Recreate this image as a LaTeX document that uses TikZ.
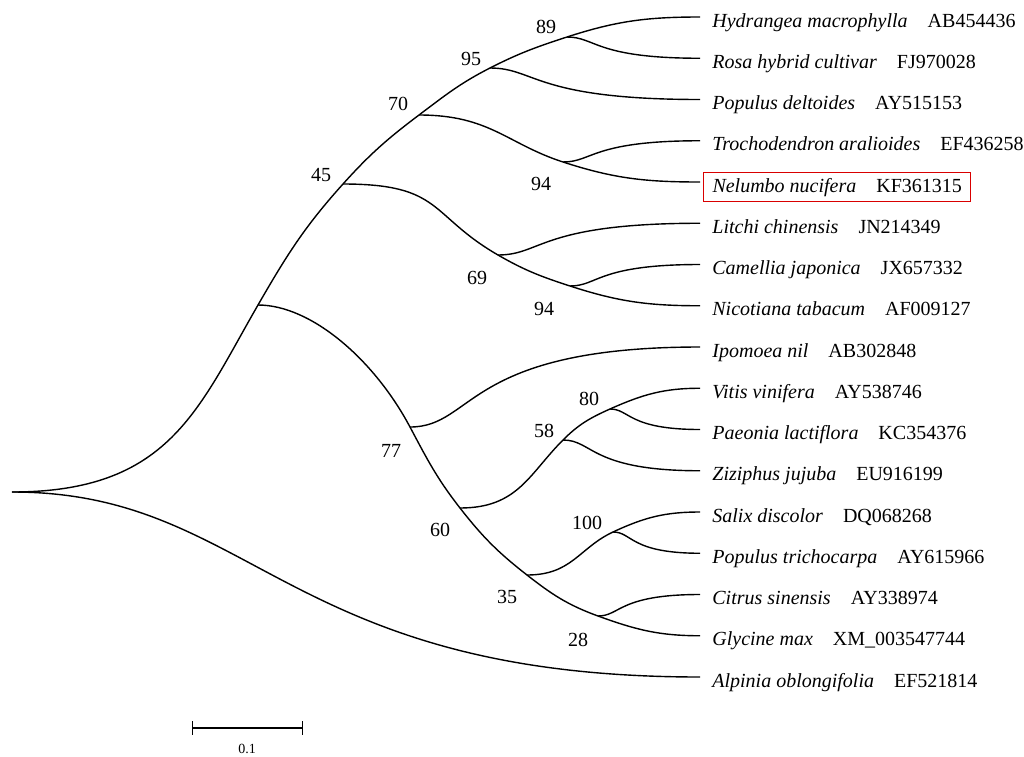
\documentclass[tikz,border=0pt]{standalone}
\usepackage{fontspec}
\setmainfont{Liberation Serif}
\tikzset{
  br/.style={line width=0.7pt},
  sig/.style={out=0,in=180,out looseness=0.55,in looseness=2},
  sp/.style={anchor=base west,inner xsep=4.5pt,inner ysep=2.5pt,text height=7.5pt,text depth=2pt,font=\fontsize{10}{12}\selectfont},
  bs/.style={inner sep=0pt,font=\fontsize{10}{12}\selectfont}
}

\begin{document}
\begin{tikzpicture}[x=0.5pt,y=-0.5pt]
        \useasboundingbox (0,0) rectangle (1024,756);
        % inner nodes
        \coordinate (root) at (12,492);
        \coordinate (n1) at (258,305);
        \coordinate (n45) at (343,184);
        \coordinate (n70) at (419,115);
        \coordinate (n95) at (490,68);
        \coordinate (n89) at (567,37);
        \coordinate (n94a) at (563,162);
        \coordinate (n69) at (498,255);
        \coordinate (n94b) at (570,286);
        \coordinate (n77) at (410,427);
        \coordinate (n60) at (460,508);
        \coordinate (n58) at (563,440);
        \coordinate (n80) at (610,409);
        \coordinate (n35) at (527,575);
        \coordinate (n100) at (613,532);
        \coordinate (n28) at (598,616);
        % leaves
        \coordinate (hyd) at (700,17);
        \coordinate (rosa) at (700,58.25);
        \coordinate (popd) at (700,99.5);
        \coordinate (tro) at (700,140.75);
        \coordinate (nel) at (700,182);
        \coordinate (lit) at (700,223.25);
        \coordinate (cam) at (700,264.5);
        \coordinate (nic) at (700,305.75);
        \coordinate (ipo) at (700,347);
        \coordinate (vit) at (700,388.25);
        \coordinate (pae) at (700,429.5);
        \coordinate (ziz) at (700,470.75);
        \coordinate (sal) at (700,512);
        \coordinate (popt) at (700,553.25);
        \coordinate (cit) at (700,594.5);
        \coordinate (gly) at (700,635.75);
        \coordinate (alp) at (700,677);
        % names
        \node (thyd) [sp] at (703,27) {\textit{Hydrangea macrophylla}\quad AB454436};
        \node (trosa) [sp] at (703,68.25) {\textit{Rosa hybrid cultivar}\quad FJ970028};
        \node (tpopd) [sp] at (703,109.5) {\textit{Populus deltoides}\quad AY515153};
        \node (ttro) [sp] at (703,150.75) {\textit{Trochodendron aralioides}\quad EF436258};
        \node (tnel) [sp,draw=red!85!black,line width=0.5pt] at (703,192) {\textit{Nelumbo nucifera}\quad KF361315};
        \node (tlit) [sp] at (703,233.25) {\textit{Litchi chinensis}\quad JN214349};
        \node (tcam) [sp] at (703,274.5) {\textit{Camellia japonica}\quad JX657332};
        \node (tnic) [sp] at (703,315.75) {\textit{Nicotiana tabacum}\quad AF009127};
        \node (tipo) [sp] at (703,357) {\textit{Ipomoea nil}\quad AB302848};
        \node (tvit) [sp] at (703,398.25) {\textit{Vitis vinifera}\quad AY538746};
        \node (tpae) [sp] at (703,439.5) {\textit{Paeonia lactiflora}\quad KC354376};
        \node (tziz) [sp] at (703,480.75) {\textit{Ziziphus jujuba}\quad EU916199};
        \node (tsal) [sp] at (703,522) {\textit{Salix discolor}\quad DQ068268};
        \node (tpopt) [sp] at (703,563.25) {\textit{Populus trichocarpa}\quad AY615966};
        \node (tcit) [sp] at (703,604.5) {\textit{Citrus sinensis}\quad AY338974};
        \node (tgly) [sp] at (703,645.75) {\textit{Glycine max}\quad XM\_003547744};
        \node (talp) [sp] at (703,687) {\textit{Alpinia oblongifolia}\quad EF521814};
        % bootstrap values
        \node (b89) [bs] at (546,27) {89};
        \node (b95) [bs] at (471,59) {95};
        \node (b70) [bs] at (398,104) {70};
        \node (b45) [bs] at (321,175) {45};
        \node (b94a) [bs] at (541,184) {94};
        \node (b69) [bs] at (477,278) {69};
        \node (b94b) [bs] at (544,309) {94};
        \node (b77) [bs] at (391,451) {77};
        \node (b80) [bs] at (589,399) {80};
        \node (b58) [bs] at (544,431) {58};
        \node (b60) [bs] at (440,530) {60};
        \node (b100) [bs] at (587,523) {100};
        \node (b35) [bs] at (507,597) {35};
        \node (b28) [bs] at (578,640) {28};
        % branches
        \draw[br] (root) to[out=0,in=240,out looseness=1.3] (n1) to[out=60,in=228] (n45)
                to[out=48,in=217] (n70) to[out=37,in=207] (n95) to[out=27,in=198] (n89)
                to[out=18,in=180] (hyd);
        \draw[br] (n70) to[out=0,in=162,out looseness=1.2] (n94a) to[out=-18,in=180] (nel);
        \draw[br] (n45) to[out=0,in=150,out looseness=1.5,in looseness=1.2] (n69)
                to[out=-30,in=162] (n94b) to[out=-18,in=180] (nic);
        \draw[br] (n1) to[out=0,in=118,out looseness=0.7] (n77) to[out=-62,in=128] (n60)
                to[out=-52,in=142] (n35) to[out=-38,in=160] (n28) to[out=-20,in=180] (gly);
        \draw[br] (n60) to[out=0,in=225,out looseness=1.2] (n58) to[out=45,in=204] (n80)
                to[out=24,in=180] (vit);
        \draw[br] (n35) to[out=0,in=205,out looseness=1.2] (n100) to[out=25,in=180] (sal);
        \draw[br] (root) to[out=0,in=180,out looseness=0.87,in looseness=1.5] (alp);
        \draw[br] (n89) to[sig] (rosa);
        \draw[br] (n95) to[sig] (popd);
        \draw[br] (n94a) to[sig] (tro);
        \draw[br] (n69) to[sig] (lit);
        \draw[br] (n94b) to[sig] (cam);
        \draw[br] (n77) to[sig] (ipo);
        \draw[br] (n80) to[sig] (pae);
        \draw[br] (n58) to[sig] (ziz);
        \draw[br] (n100) to[sig] (popt);
        \draw[br] (n28) to[sig] (cit);
        % scale bar
        \coordinate (s0) at (192,728);
        \coordinate (s1) at (303,728);
        \draw[br,|-|] (s0) -- (s1);
        \node (sl) [inner sep=0pt,font=\fontsize{7}{8}\selectfont] at (247,749) {0.1};
\end{tikzpicture}
\end{document}
